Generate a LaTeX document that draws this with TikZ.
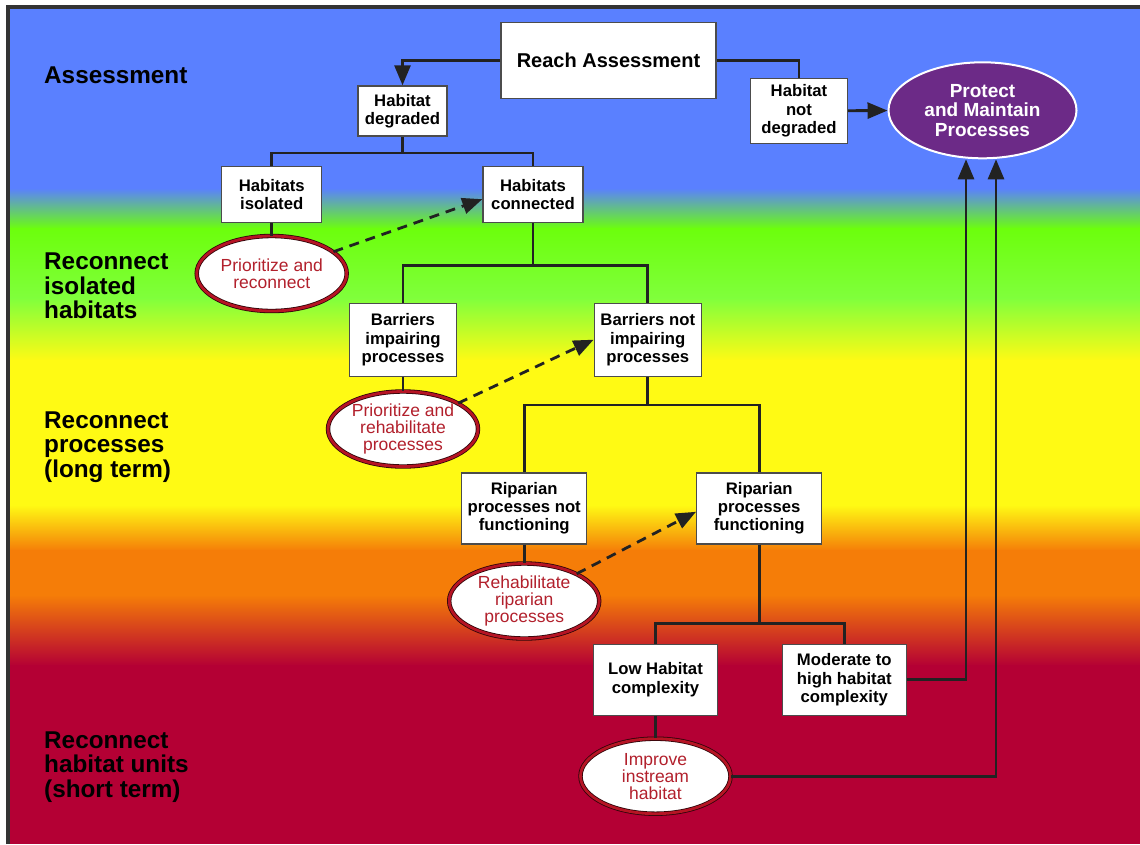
\documentclass[tikz,border=0pt]{standalone}
\usepackage{fontspec}
\setmainfont{Liberation Sans}
\usetikzlibrary{shapes.geometric, arrows.meta}
\definecolor{bandblue}{RGB}{90,128,255}
\definecolor{bandgreen}{RGB}{108,255,12}
\definecolor{bandlime}{RGB}{128,255,60}
\definecolor{bandyellow}{RGB}{255,250,20}
\definecolor{bandorange}{RGB}{245,125,8}
\definecolor{bandred}{RGB}{180,0,52}
\definecolor{goalpurple}{RGB}{108,42,135}
\definecolor{actred}{RGB}{182,20,36}
\definecolor{acttext}{RGB}{178,32,44}
\definecolor{wiregray}{RGB}{34,34,34}

\begin{document}
\begin{tikzpicture}[x=1pt, y=-1pt,
	box/.style={draw=black!70, line width=1.4pt, fill=white, rectangle, align=center, inner sep=0pt, font=\bfseries\fontsize{16.7}{18.3}\selectfont},
	act/.style={draw=black!75!actred, line width=0.8pt, double=actred, double distance=2.8pt, fill=white, ellipse, align=center, inner sep=0pt, minimum width=150pt, minimum height=75pt, text=acttext, font=\fontsize{17.5}{17}\selectfont},
	lab/.style={anchor=west, align=left, inner sep=0pt, font=\bfseries\fontsize{24.3}{24.3}\selectfont},
	link/.style={draw=wiregray, line width=2.8pt},
	arr/.style={link, -{Triangle[length=20pt,width=16pt]}},
	dasharr/.style={arr, dash pattern=on 10pt off 7pt}]
				\useasboundingbox (0,0) rectangle (1140,844);
				\fill[white] (0,0) rectangle (1140,844);
				\fill[bandblue] (9,8) rectangle (1140,189);
				\shade[top color=bandblue, bottom color=bandgreen] (9,188) rectangle (1140,229);
				\shade[top color=bandgreen, bottom color=bandlime] (9,228) rectangle (1140,299);
				\shade[top color=bandlime, bottom color=bandyellow] (9,298) rectangle (1140,361);
				\fill[bandyellow] (9,360) rectangle (1140,506);
				\shade[top color=bandyellow, bottom color=bandorange] (9,505) rectangle (1140,551);
				\fill[bandorange] (9,550) rectangle (1140,596);
				\shade[top color=bandorange, bottom color=bandred] (9,595) rectangle (1140,666);
				\fill[bandred] (9,665) rectangle (1140,844);
				\draw[black!80, line width=4pt] (8,844) -- (8,6.5) -- (1140,6.5);

				\node[lab] (lassess)at(44, 75) {Assessment};
				\node[lab] (liso)at(44, 286) {Reconnect\\isolated\\habitats};
				\node[lab] (lproc)at(44, 447) {Reconnect\\processes\\(long term)};
				\node[lab] (lunit)at(44, 767) {Reconnect\\habitat units\\(short term)};

				\node[box, minimum width=215pt, minimum height=76pt, font=\bfseries\fontsize{20}{22}\selectfont] (reach)at(608.5, 60.5) {Reach Assessment};
				\node[box, minimum width=89pt, minimum height=50pt] (hdeg)at(402.5, 111) {Habitat\\degraded};
				\node[box, minimum width=97pt, minimum height=65pt] (hnot)at(799, 110.8) {Habitat\\not\\degraded};
				\node[ellipse, draw=white, line width=2pt, fill=goalpurple, text=white, align=center, inner sep=0pt, minimum width=188pt, minimum height=96pt, font=\bfseries\fontsize{19}{19.7}\selectfont] (protect)at(982.5, 110.3) {Protect\\and Maintain\\Processes};
				\node[box, minimum width=100pt, minimum height=56pt] (hiso)at(271.7, 194.7) {Habitats\\isolated};
				\node[box, minimum width=100pt, minimum height=56pt] (hcon)at(533, 194.7) {Habitats\\connected};
				\node[act] (prio1)at(271.7, 273.5) {Prioritize and\\reconnect};
				\node[box, minimum width=107pt, minimum height=73pt] (bimp)at(403, 339.7) {Barriers\\impairing\\processes};
				\node[box, minimum width=107pt, minimum height=73pt] (bnot)at(647.8, 339.7) {Barriers not\\impairing\\processes};
				\node[act] (prio2)at(403, 429) {Prioritize and\\rehabilitate\\processes};
				\node[box, minimum width=125pt, minimum height=71pt] (rnot)at(524.2, 508.3) {Riparian\\processes not\\functioning};
				\node[box, minimum width=125pt, minimum height=71pt] (rfun)at(759.2, 508.3) {Riparian\\processes\\functioning};
				\node[act] (rehab)at(524.2, 601) {Rehabilitate\\riparian\\processes};
				\node[box, minimum width=124pt, minimum height=71pt] (low)at(655.5, 679.7) {Low Habitat\\complexity};
				\node[box, minimum width=124pt, minimum height=71pt] (mod)at(844.3, 679.7) {Moderate to\\high habitat\\complexity};
				\node[act] (impr)at(655.5, 776.2) {Improve\\instream\\habitat};

				\coordinate (j1)at(402.5, 153);
				\coordinate (j2)at(533, 265.7);
				\coordinate (j3)at(647.8, 405);
				\coordinate (j4)at(759.2, 623.5);

				\draw[arr] (reach) -| (hdeg);
				\draw[link] (reach) -| (hnot);
				\draw[arr] (hnot) -- (protect);
				\draw[link] (hdeg) -- (j1) (hiso) |- (j1) -| (hcon);
				\draw[link] (hcon) -- (j2) (bimp) |- (j2) -| (bnot);
				\draw[link] (bnot) -- (j3) (rnot) |- (j3) -| (rfun);
				\draw[link] (rfun) -- (j4) (low) |- (j4) -| (mod);
				\draw[link] (hiso) -- (prio1);
				\draw[link] (bimp) -- (prio2);
				\draw[link] (rnot) -- (rehab);
				\draw[link] (low) -- (impr);
				\draw[dasharr] (prio1) -- ([yshift=-4.5pt]hcon.west);
				\draw[dasharr] (prio2) -- (bnot.west);
				\draw[dasharr] (rehab) -- ([yshift=-3.5pt]rfun.west);
				\draw[arr] (mod) -| ([xshift=-16.5pt]protect.south);
				\draw[arr] (impr) -| ([xshift=13.5pt]protect.south);
			\end{tikzpicture}
\end{document}
